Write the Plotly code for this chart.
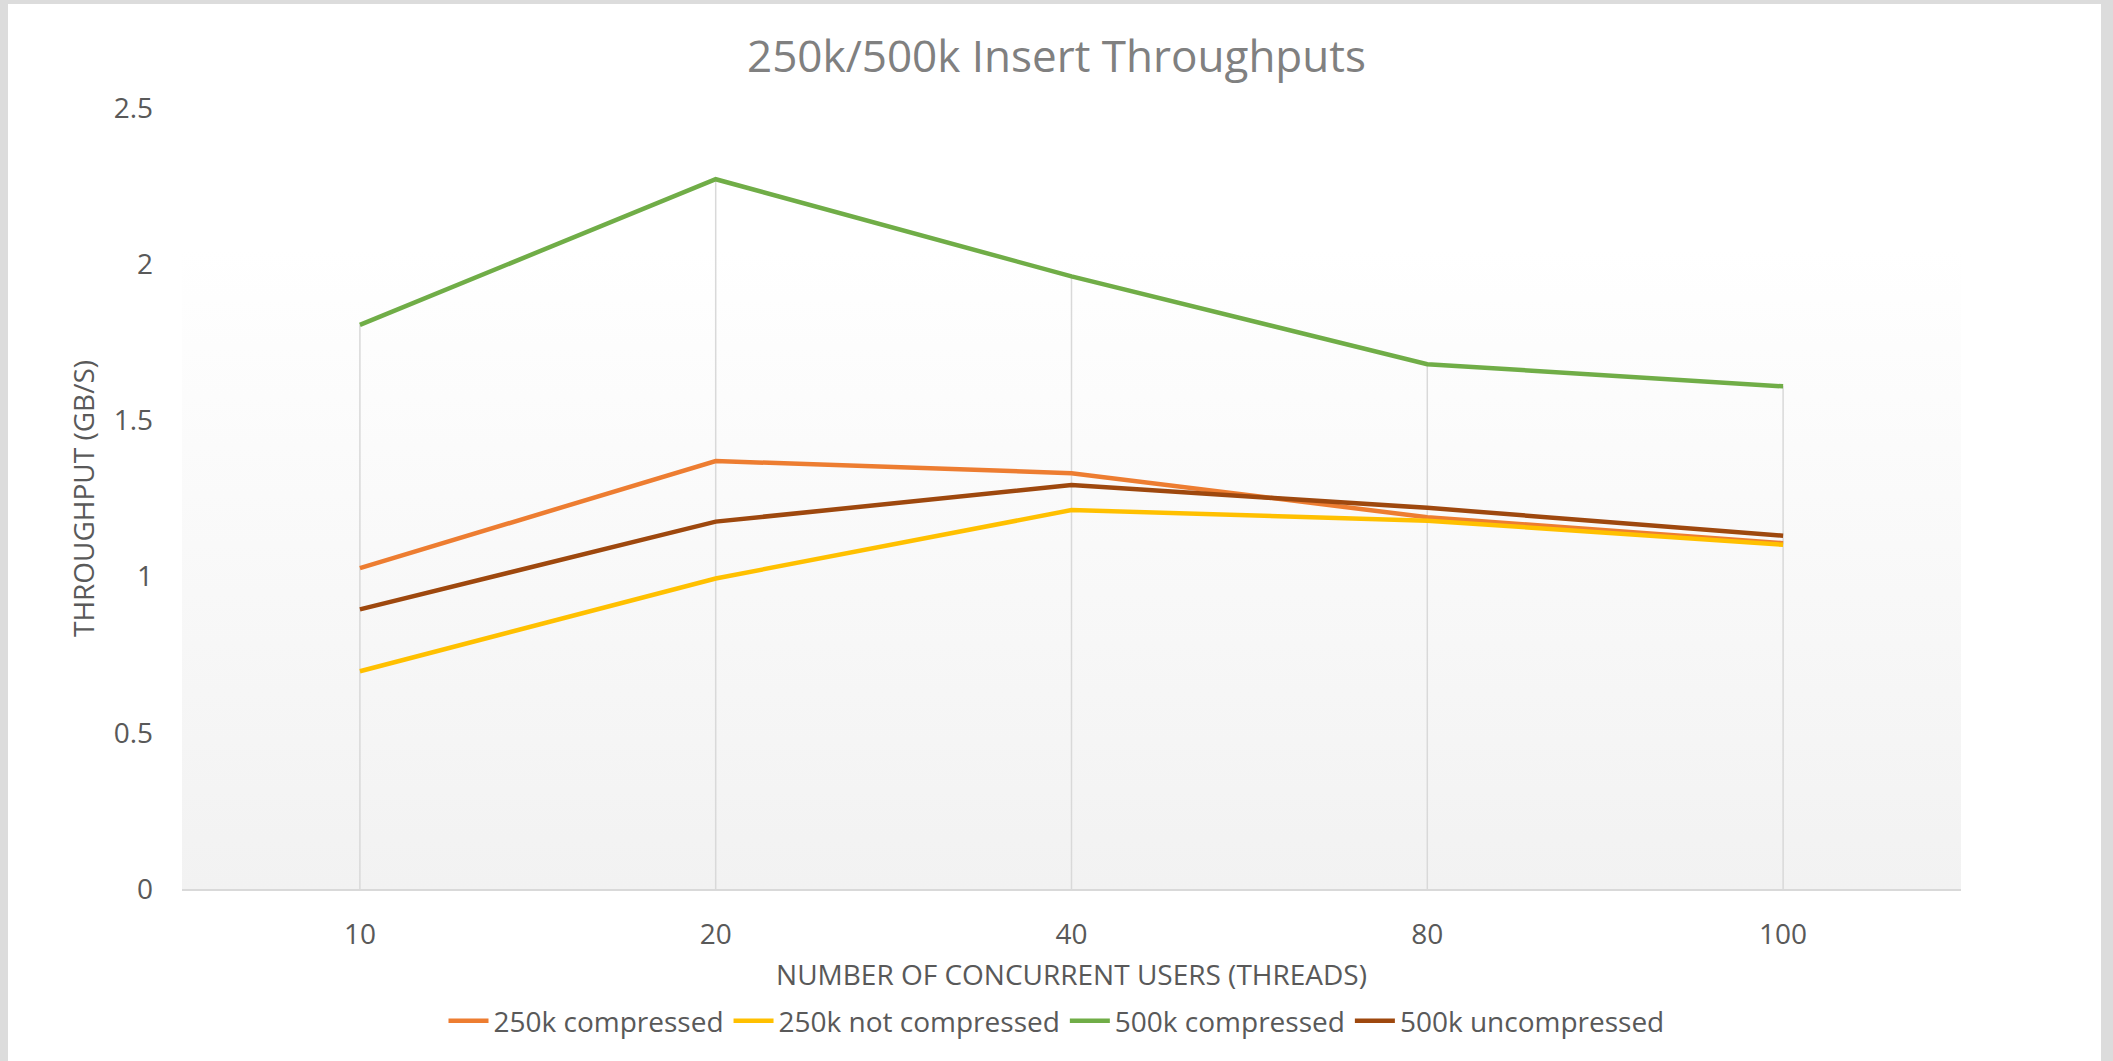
import plotly.graph_objects as go

categories = ["10", "20", "40", "80", "100"]
series_names = ["250k compressed", "250k not compressed", "500k compressed", "500k uncompressed"]
v_250k_compressed = [1.027, 1.370, 1.331, 1.190, 1.107]
v_250k_not_compressed = [0.697, 0.994, 1.213, 1.179, 1.102]
v_500k_compressed = [1.806, 2.272, 1.961, 1.680, 1.609]
v_500k_uncompressed = [0.895, 1.176, 1.293, 1.220, 1.131]
y_ticks = [0, 0.5, 1, 1.5, 2, 2.5]
y_tick_labels = ["0", "0.5", "1", "1.5", "2", "2.5"]

colors = ["#ED7D31", "#FFC000", "#70AD47", "#9E480E"]
all_values = [v_250k_compressed, v_250k_not_compressed, v_500k_compressed, v_500k_uncompressed]

W, H = 2113, 1061
L, R, T, B = 182, 152, 108, 172
FONT = "Open Sans"
TXT = "#595959"

xs = list(range(len(categories)))
fig = go.Figure()

# plot-area gradient background
fig.add_trace(go.Scatter(
    x=[-0.5, 4.5, 4.5, -0.5, -0.5], y=[0, 0, 2.5, 2.5, 0],
    mode="lines", line=dict(width=0), fill="toself",
    fillgradient=dict(type="vertical", start=0, stop=2.5,
                      colorscale=[[0, "#f2f2f2"], [0.82, "#ffffff"], [1, "#ffffff"]]),
    hoverinfo="skip", showlegend=False))

# drop lines from the highest point of each category to the axis
drop_x, drop_y = [], []
for i in xs:
    top = max(v[i] for v in all_values)
    drop_x += [i, i, None]
    drop_y += [0, top, None]
fig.add_trace(go.Scatter(x=drop_x, y=drop_y, mode="lines",
                         line=dict(color="#d9d9d9", width=1.5),
                         hoverinfo="skip", showlegend=False))

for name, vals, c in zip(series_names, all_values, colors):
    fig.add_trace(go.Scatter(x=xs, y=vals, mode="lines", name=name,
                             line=dict(color=c, width=4.5)))

# outer gray frame
pw = W - L - R
ph = H - T - B
def px_x(p):
    return (p - L) / pw
def px_y(p):
    return (H - B - p) / ph
frame = "#dcdcdc"
shapes = [
    dict(type="rect", xref="paper", yref="paper", x0=px_x(0), x1=px_x(8), y0=px_y(H), y1=px_y(0),
         fillcolor=frame, line_width=0, layer="below"),
    dict(type="rect", xref="paper", yref="paper", x0=px_x(0), x1=px_x(W), y0=px_y(4), y1=px_y(0),
         fillcolor=frame, line_width=0, layer="below"),
    dict(type="rect", xref="paper", yref="paper", x0=px_x(2101), x1=px_x(W), y0=px_y(H), y1=px_y(0),
         fillcolor=frame, line_width=0, layer="below"),
]

fig.update_layout(
    width=W, height=H,
    margin=dict(l=L, r=R, t=T, b=B, autoexpand=False),
    paper_bgcolor="#ffffff", plot_bgcolor="rgba(0,0,0,0)",
    shapes=shapes,
    title=dict(text="250k/500k Insert Throughputs", x=0.5, xref="container", xanchor="center",
               y=1 - 57 / H, yanchor="middle",
               font=dict(family=FONT, size=44, color="#808080")),
    font=dict(family=FONT, color=TXT),
    xaxis=dict(range=[-0.5, 4.5], tickvals=xs, ticktext=categories, showgrid=False,
               zeroline=False, showline=True, linecolor="#d9d9d9", linewidth=1.5,
               ticks="", ticklabelstandoff=20, tickfont=dict(size=28, color=TXT),
               title=dict(text="NUMBER OF CONCURRENT USERS (THREADS)", standoff=14,
                          font=dict(size=28, color=TXT))),
    yaxis=dict(range=[0, 2.5], tickvals=y_ticks, ticktext=y_tick_labels, showgrid=False,
               zeroline=False, showline=False, ticks="", ticklabelstandoff=28,
               tickfont=dict(size=28, color=TXT),
               title=dict(text="THROUGHPUT (GB/S)", standoff=10,
                          font=dict(size=28, color=TXT))),
    legend=dict(orientation="h", x=px_x(W / 2), xanchor="center", y=-0.137, yanchor="top",
                font=dict(size=28, color=TXT), bgcolor="rgba(0,0,0,0)",
                itemwidth=40, tracegroupgap=0),
    showlegend=True,
)

fig.write_html("out.html", config={"displayModeBar": False},
               post_script="document.body.style.margin='0';")
